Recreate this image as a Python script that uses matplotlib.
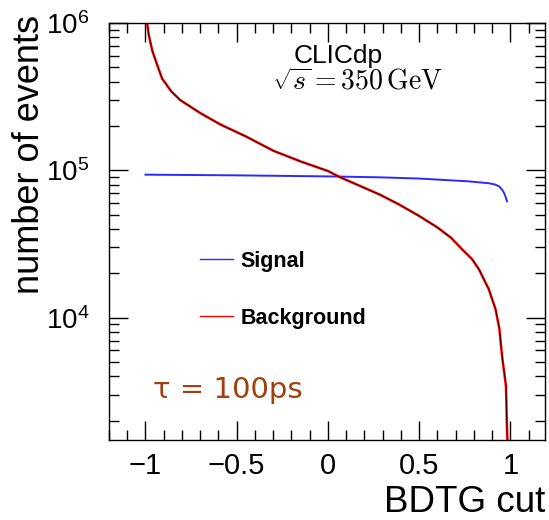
import matplotlib
matplotlib.use('Agg')
import matplotlib.pyplot as plt
from matplotlib.ticker import MultipleLocator, LogLocator, FixedLocator, FixedFormatter, NullFormatter
from matplotlib.lines import Line2D

plt.rcParams['font.family'] = ['Liberation Sans', 'DejaVu Sans']

# values
bkg_cut = [-0.995, -0.991, -0.982, -0.963, -0.936, -0.909, -0.86, -0.81, -0.70, -0.59,
           -0.45, -0.30, -0.15, 0.0, 0.065, 0.18, 0.284, 0.39, 0.503, 0.60, 0.676,
           0.737, 0.790, 0.828, 0.882, 0.919, 0.940, 0.951, 0.957, 0.967, 0.976,
           0.982, 0.985]
bkg_events = [1.2e6, 1.0e6, 8.3e5, 6.5e5, 5.2e5, 4.2e5, 3.45e5, 3.0e5, 2.45e5, 2.05e5,
              1.7e5, 1.36e5, 1.15e5, 9.9e4, 9.0e4, 7.8e4, 6.85e4, 5.87e4, 4.88e4, 4.1e4, 3.48e4,
              2.9e4, 2.5e4, 2.13e4, 1.56e4, 1.14e4, 8.4e3, 6.1e3, 5.2e3, 4.2e3, 3.44e3,
              1.71e3, 1.4e3]

sig_cut = [-1.0, -0.5, 0.0, 0.284, 0.5, 0.773, 0.885, 0.919, 0.94, 0.955, 0.965, 0.973, 0.982]
sig_events = [9.35e4, 9.25e4, 9.1e4, 8.97e4, 8.8e4, 8.42e4, 8.17e4, 8.0e4, 7.75e4, 7.4e4,
              7.05e4, 6.67e4, 6.17e4]

xtick_vals = [-1, -0.5, 0, 0.5, 1]
xtick_labels = ['\u22121', '\u22120.5', '0', '0.5', '1']

fig = plt.figure(figsize=(5.49, 5.20), dpi=100)
ax = fig.add_axes([109 / 549, 80 / 520, 436 / 549, 417 / 520])

ax.plot(sig_cut, sig_events, color='#2a2aff', lw=1.4)
ax.plot(bkg_cut, bkg_events, color='red', lw=1.8)
ax.plot(bkg_cut, bkg_events, color='black', lw=0.5)

ax.set_yscale('log')
ax.set_xlim(-1.2, 1.19)
ax.set_ylim(1.48e3, 1.0e6)

ax.xaxis.set_major_locator(FixedLocator(xtick_vals))
ax.xaxis.set_major_formatter(FixedFormatter(xtick_labels))
ax.xaxis.set_minor_locator(MultipleLocator(0.1))
ax.yaxis.set_major_locator(LogLocator(base=10))
ax.yaxis.set_minor_locator(LogLocator(base=10, subs=range(2, 10)))
ax.yaxis.set_minor_formatter(NullFormatter())

ax.tick_params(which='both', direction='in', top=True, right=True, width=1)
ax.tick_params(which='major', length=14)
ax.tick_params(which='minor', length=7)
ax.tick_params(axis='x', which='major', labelsize=21, pad=9)
ax.tick_params(axis='y', which='major', labelsize=20, pad=14)
for s in ax.spines.values():
    s.set_linewidth(1)

fig.text(30 / 549, 1 - 15 / 520, 'number of events', rotation=90, ha='center', va='top', fontsize=26)
fig.text(545 / 549, 1 - 512 / 520, 'BDTG cut', ha='right', va='baseline', fontsize=26.5)

fig.text(338 / 549, 1 - 63 / 520, 'CLICdp', ha='center', va='baseline', fontsize=19)
fig.text(357 / 549, 1 - 90 / 520, r'$\sqrt{s} = 350\,\mathrm{GeV}$', ha='center', va='baseline',
         fontsize=20, math_fontfamily='cm')

fig.text(153 / 549, 1 - 398 / 520, '\u03c4 = 100ps', ha='left', va='baseline', fontsize=21,
         color='#a0400c', family='DejaVu Sans')

handles = [Line2D([], [], color='#2a2aff', lw=1.0), Line2D([], [], color='red', lw=1.0)]
ax.legend(handles, ['Signal', 'Background'], loc='upper left',
          bbox_to_anchor=(200 / 549, 1 - 251 / 520), bbox_transform=fig.transFigure,
          frameon=False, borderpad=0, borderaxespad=0, handlelength=1.55,
          handletextpad=0.35, labelspacing=1.65, prop={'weight': 'bold', 'size': 15.5})

plt.savefig('out.png', dpi=100)
plt.close()
